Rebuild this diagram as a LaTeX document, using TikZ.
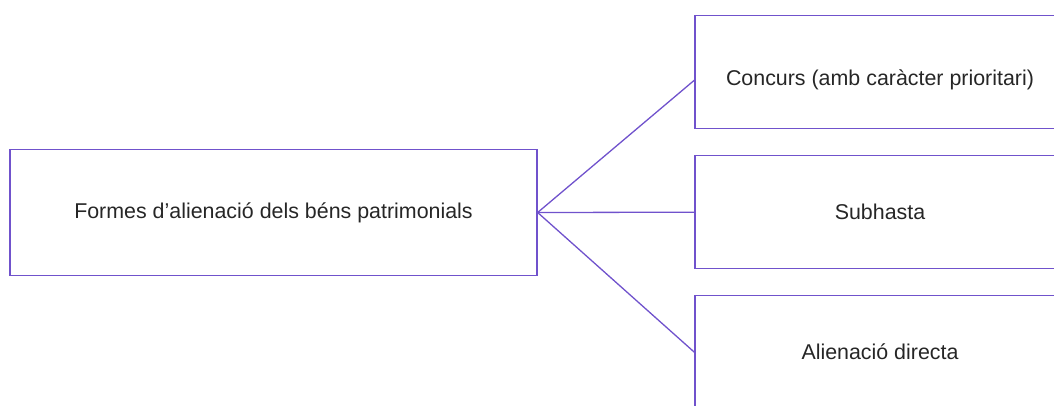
\documentclass[tikz,border=0pt]{standalone}
\usepackage{fontspec}
\setmainfont{Liberation Sans}
\usepackage{xcolor}
\definecolor{lila}{RGB}{112,82,204}
\begin{document}
\begin{tikzpicture}[x=1pt,y=-1pt,
  caixa/.style={draw=lila,line width=1.3pt,inner sep=0pt,text=black!85,
    font=\fontsize{21.4}{25}\selectfont,minimum width=527pt,minimum height=126pt},
  forma/.style={caixa,minimum width=370pt,minimum height=113pt},
  linia/.style={lila,line width=1.3pt}]
\useasboundingbox (0,0) rectangle (1054,405);
\clip (0,0) rectangle (1054,405);

\node[caixa] (formes) at (273.5,212.5) {Formes d’alienació dels béns patrimonials};

\node[forma] (concurs) at (880,72.2) {\raisebox{-8pt}[\height][\depth]{Concurs (amb caràcter prioritari)}};
\node[forma] (subhasta) at (880,212.2) {Subhasta};
\node[forma] (directa) at (880,352.2) {Alienació directa};

\draw[linia] (formes.east) -- ([yshift=-8pt]concurs.west);
\foreach \n in {subhasta,directa}{
  \draw[linia] (formes.east) -- (\n.west);
}
\end{tikzpicture}
\end{document}
